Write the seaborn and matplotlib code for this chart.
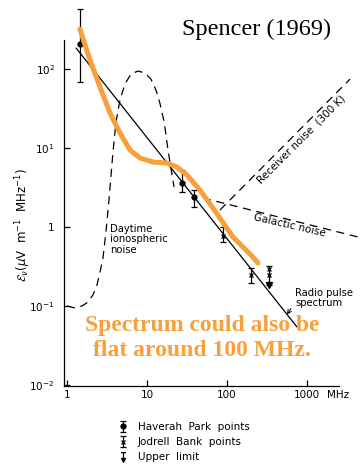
import numpy as np
import matplotlib
matplotlib.use('Agg')
import matplotlib.pyplot as plt
import seaborn as sns
from matplotlib.lines import Line2D
from matplotlib.path import Path

# --- data (frequency in MHz, field strength in uV/m/MHz)
haverah_freq = [1.45, 27.4, 38.7]
haverah_val = [207, 3.6, 2.4]
haverah_lo = [68.4, 2.77, 1.79]
haverah_hi = [575, 5.3, 2.94]

jodrell_freq = [89, 200]
jodrell_val = [0.77, 0.245]
jodrell_lo = [0.64, 0.195]
jodrell_hi = [1.0, 0.30]

limit_freq = [335, 335]
limit_val = [0.29, 0.245]
limit_top = 0.32
limit_arrow = 0.185

pulse_freq = [1.30, 750]
pulse_val = [184.6, 0.0542]

iono_freq = [1.0, 1.26, 1.54, 1.83, 2.11, 2.37, 2.59, 2.82, 2.99, 3.16, 3.35, 3.55,
             3.76, 4.1, 4.6, 5.31, 6.31, 7.72, 9.44, 11.2, 12.96, 14.5, 16.3, 17.3,
             18.3, 19.95, 21.8]
iono_val = [0.100, 0.0944, 0.100, 0.112, 0.138, 0.184, 0.269, 0.405, 0.684, 1.16,
            2.2, 4.43, 8.9, 21.3, 40.6, 64.6, 86.5, 94.3, 89, 74.7, 54.2, 37.1, 22,
            14.6, 9.44, 5.58, 3.2]

galactic_freq = [50.1, 4870]
galactic_val = [2.33, 0.726]

receiver_freq = [81.7, 3450]
receiver_val = [1.64, 74.6]

flat_freq = [1.45, 1.94, 2.59, 3.45, 4.6, 6.13, 8.18, 11.9, 17.8, 23.7, 31.6, 46,
             66.8, 119, 211, 244]
flat_val = [321, 130, 59.2, 27.7, 15.5, 9.44, 7.47, 6.65, 6.46, 5.75, 4.55, 2.94,
            1.74, 0.746, 0.417, 0.35]

x_ticks = [1, 10, 100, 1000]
x_ticklabels = ['1', '10', '100', '1000']
y_ticks = [1e-2, 1e-1, 1, 10, 100]
y_ticklabels = ['$10^{-2}$', '$10^{-1}$', '1', '$10^{1}$', '$10^{2}$']

ORANGE = '#f8a03a'

sns.set_style('ticks')
plt.rcParams['font.family'] = ['DejaVu Sans']
plt.rcParams['mathtext.fontset'] = 'dejavusans'
plt.rcParams['text.color'] = 'black'
plt.rcParams['axes.labelcolor'] = 'black'

fig = plt.figure(figsize=(3.62, 4.76), dpi=100)
ax = fig.add_axes([0.178, 0.189, 0.758, 0.726])
ax.set_xscale('log')
ax.set_yscale('log')

dash = (6.5, 4.5)
lw = 0.9

# radio pulse spectrum
sns.lineplot(x=pulse_freq, y=pulse_val, ax=ax, color='black', linewidth=lw,
             estimator=None, sort=False)
# daytime ionospheric noise
sns.lineplot(x=iono_freq, y=iono_val, ax=ax, color='black', linewidth=lw,
             estimator=None, sort=False)
ax.lines[-1].set_dashes(dash)
# galactic and receiver noise
sns.lineplot(x=galactic_freq, y=galactic_val, ax=ax, color='black', linewidth=lw,
             estimator=None, sort=False)
ax.lines[-1].set_dashes(dash)
ax.lines[-1].set_clip_on(False)
sns.lineplot(x=receiver_freq, y=receiver_val, ax=ax, color='black', linewidth=lw,
             estimator=None, sort=False)
ax.lines[-1].set_dashes(dash)
ax.lines[-1].set_clip_on(False)

# measured points
hp_err = [np.subtract(haverah_val, haverah_lo), np.subtract(haverah_hi, haverah_val)]
hp = ax.errorbar(haverah_freq, haverah_val, yerr=hp_err, fmt='o', color='black',
                 markersize=3.5, elinewidth=0.9, capsize=2.5, capthick=0.9, zorder=4)
for art in hp.lines[2] + hp.lines[1] + (hp.lines[0],):
    art.set_clip_on(False)
jb_err = [np.subtract(jodrell_val, jodrell_lo), np.subtract(jodrell_hi, jodrell_val)]
jb = ax.errorbar(jodrell_freq, jodrell_val, yerr=jb_err, fmt='x', color='black',
                 markersize=3.5, markeredgewidth=0.9, elinewidth=0.9, capsize=2.5,
                 capthick=0.9, zorder=4)
ul_mid = (limit_top + limit_arrow) / 2
ax.errorbar([limit_freq[0]], [ul_mid], yerr=[[ul_mid - limit_arrow], [limit_top - ul_mid]],
            fmt='none', color='black', elinewidth=0.9, capsize=2.5, capthick=0.9, zorder=4)
ax.plot(limit_freq, limit_val, 'x', color='black', markersize=3.5, markeredgewidth=0.9)
ax.plot([limit_freq[0]], [limit_arrow], 'v', color='black', markersize=4)

# orange overlay curve
sns.lineplot(x=flat_freq, y=flat_val, ax=ax, color=ORANGE, linewidth=3.6,
             estimator=None, sort=False, zorder=5)
ax.lines[-1].set_solid_capstyle('round')
ax.lines[-1].set_clip_on(False)

ax.set_xlim(0.93, 2500)
ax.set_ylim(0.0097, 230)
ax.set_xticks(x_ticks)
ax.set_xticklabels(x_ticklabels)
ax.set_yticks(y_ticks)
ax.set_yticklabels(y_ticklabels)
ax.minorticks_off()
ax.tick_params(direction='in', length=4, width=0.9, labelsize=7.5, colors='black')
ax.tick_params(axis='y', pad=7)
ax.tick_params(axis='x', pad=3)
sns.despine(ax=ax)
for side in ['left', 'bottom']:
    ax.spines[side].set_color('black')
    ax.spines[side].set_linewidth(0.9)
ax.annotate('MHz', xy=(1780, 0), xycoords=ax.get_xaxis_transform(),
            xytext=(0, -3), textcoords='offset points', ha='left', va='top', fontsize=7.5)

ax.set_ylabel(r'$\mathcal{E}_\nu$($\mu$V  m$^{-1}$  MHz$^{-1}$)', fontsize=8.5)
ax.yaxis.set_label_coords(-0.115, 0.466)

# curve labels
ax.text(3.45, 1.1, 'Daytime\nionospheric\nnoise', fontsize=7.2, ha='left', va='top',
        linespacing=1.05)
ax.text(841, 13.0, 'Receiver noise  (300 K)', fontsize=7.5, rotation=45,
        ha='center', va='center', rotation_mode='anchor')
ax.text(613, 1.06, 'Galactic noise', fontsize=7.5, rotation=-13,
        ha='center', va='center', rotation_mode='anchor')
ax.annotate('Radio pulse\nspectrum', xy=(562, 0.078), xytext=(708, 0.128),
            fontsize=7.2, ha='left', va='center', linespacing=1.0, annotation_clip=False,
            arrowprops=dict(arrowstyle='->', color='black', lw=0.7, relpos=(0, 0.25),
                            shrinkA=1, shrinkB=0))

fig.text(257 / 362, 1 - 29 / 476, 'Spencer (1969)', family='Liberation Serif',
         fontsize=17.5, ha='center', va='center')
fig.text(202 / 362, 1 - 338 / 476, 'Spectrum could also be\nflat around 100 MHz.',
         family='Liberation Serif', fontweight='bold', fontsize=17, color=ORANGE,
         ha='center', va='center', multialignment='center', linespacing=1.2)

# legend
verts = [(-0.5, 1), (0.5, 1), (0, 1), (0, -0.2), (-0.4, -0.2), (0.4, -0.2), (0, -1), (-0.4, -0.2)]
codes = [Path.MOVETO, Path.LINETO, Path.MOVETO, Path.LINETO,
         Path.MOVETO, Path.LINETO, Path.LINETO, Path.CLOSEPOLY]
limit_handle = Line2D([], [], marker=Path(verts, codes), color='black', linestyle='None',
                      markersize=7, markeredgewidth=0.9)
fig.legend([hp, jb, limit_handle],
           ['Haverah  Park  points', 'Jodrell  Bank  points', 'Upper  limit'],
           loc='upper left', bbox_to_anchor=(118 / 362, 1 - 422 / 476), frameon=False,
           fontsize=7.5, handlelength=1.0, handletextpad=0.9, labelspacing=0.5,
           borderpad=0, borderaxespad=0)

fig.savefig('out.png', dpi=100)
